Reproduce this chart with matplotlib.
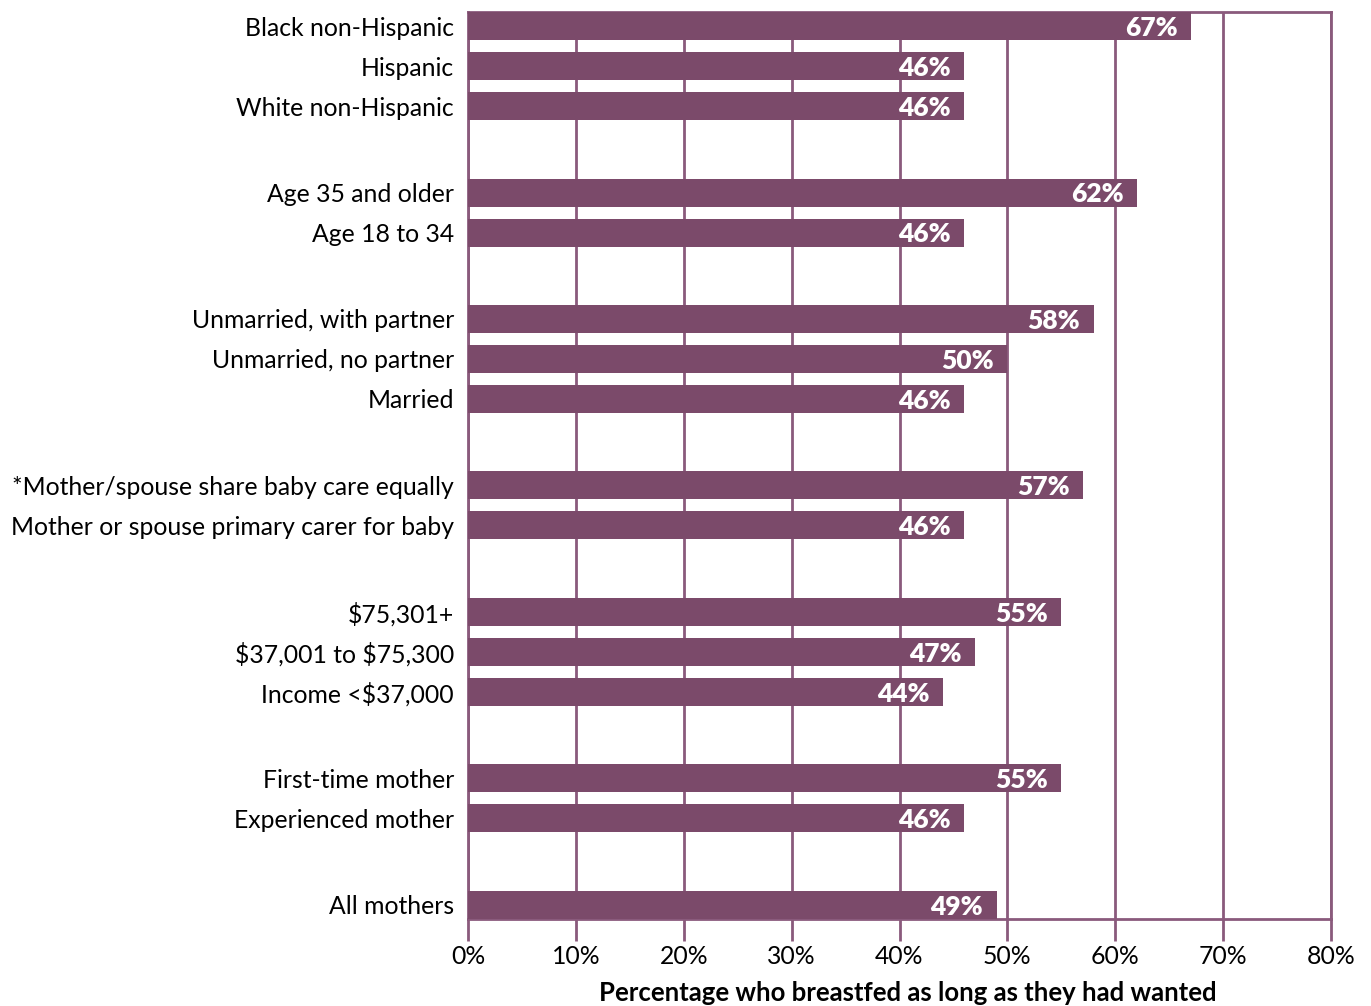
import matplotlib
matplotlib.use("Agg")
import matplotlib.pyplot as plt
from matplotlib.ticker import FuncFormatter

# data, top to bottom, in groups
groups = [
    ["Black non-Hispanic", "Hispanic", "White non-Hispanic"],
    ["Age 35 and older", "Age 18 to 34"],
    ["Unmarried, with partner", "Unmarried, no partner", "Married"],
    ["*Mother/spouse share baby care equally", "Mother or spouse primary carer for baby"],
    [r"\$75,301+", r"\$37,001 to \$75,300", r"Income <\$37,000"],
    ["First-time mother", "Experienced mother"],
    ["All mothers"],
]
values = [
    [67, 46, 46],
    [62, 46],
    [58, 50, 46],
    [57, 46],
    [55, 47, 44],
    [55, 46],
    [49],
]
xlabel = "Percentage who breastfed as long as they had wanted"

purple = "#7B4A6A"
grid_col = "#8A5A7C"
plt.rcParams["font.family"] = ["Lato", "DejaVu Sans"]

# row positions: step 1 inside a group, wider step between groups
labels, vals, ypos = [], [], []
y = 0.0
for gi, (g, v) in enumerate(zip(groups, values)):
    for lab, val in zip(g, v):
        labels.append(lab)
        vals.append(val)
        ypos.append(y)
        y += 1
    y += 1.1625

fig = plt.figure(figsize=(13.71, 10.06), dpi=100)
ax = fig.add_axes([468 / 1371, 1 - 919 / 1006, (1331 - 468) / 1371, (919 - 12) / 1006])

ax.barh(ypos, vals, height=0.7, color=purple, zorder=3)
for yy, v in zip(ypos, vals):
    ax.text(v - 1.25, yy + 0.04, f"{v}%", ha="right", va="center", color="white",
            fontsize=19, fontweight="heavy", zorder=4)

ax.set_xlim(0, 80)
ax.set_ylim(ypos[-1] + 0.35, -0.35)
ax.set_xticks(range(0, 81, 10))
ax.xaxis.set_major_formatter(FuncFormatter(lambda x, p: f"{int(x)}%"))
ax.set_yticks(ypos)
ax.set_yticklabels(labels)
ax.tick_params(axis="y", length=0, pad=10, labelsize=17.8)
ax.tick_params(axis="x", length=16, width=2, color=grid_col, labelsize=17.8, pad=3)
ax.grid(axis="x", color=grid_col, linewidth=2, zorder=1)
for s in ax.spines.values():
    s.set_color(grid_col)
    s.set_linewidth(2)
ax.set_xlabel(xlabel, fontsize=18.5, fontweight="bold")
ax.xaxis.set_label_coords(0.51, -0.068)

fig.savefig("out.png", dpi=100)
